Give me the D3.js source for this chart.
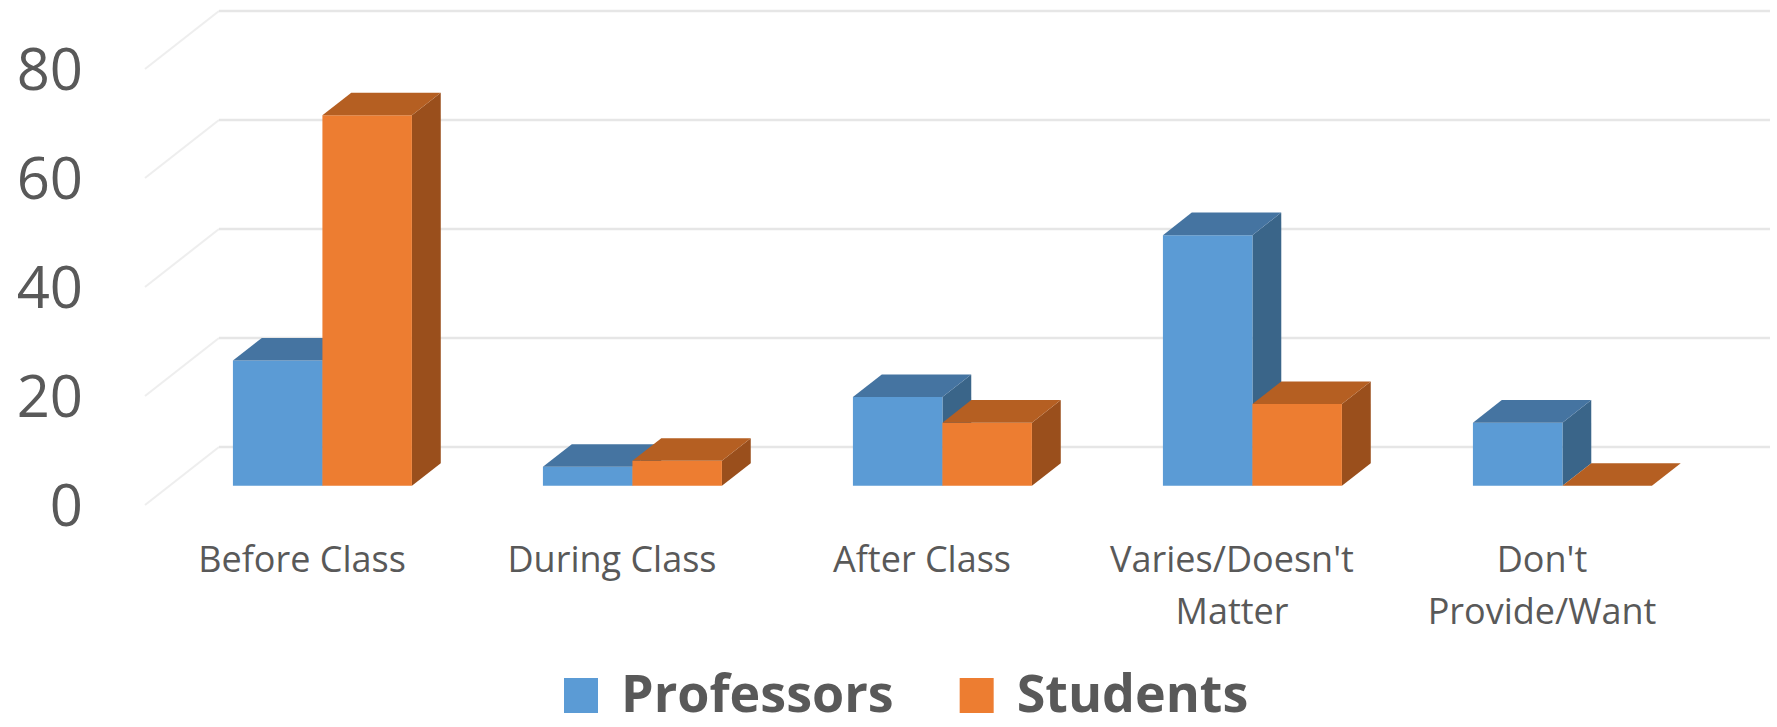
<!DOCTYPE html>
<html>
<head>
<meta charset="utf-8">
<script src="https://cdn.jsdelivr.net/npm/d3@7"></script>
<style>
  body { margin: 0; background: #ffffff; }
  text { font-family: "Open Sans", "Noto Sans", sans-serif; fill: #595959; }
</style>
</head>
<body>
<div id="chart"></div>
<script>
// chart data
var categories = ["Before Class", "During Class", "After Class", "Varies/Doesn't Matter", "Don't Provide/Want"];
var seriesNames = ["Professors", "Students"];
var professors = [23, 3.5, 16.3, 46, 11.6];
var students = [68, 4.6, 11.6, 15, 0];
var yTicks = [0, 20, 40, 60, 80];

var svgWidth = 1777;
var svgHeight = 727;

// 3d look: depth of the floor and of the bars
var depthX = 74;
var depthY = -58;
var barZ0 = 0.33;
var barZ1 = 0.72;

var colors = {
    Professors: { front: "#5b9bd5", top: "#4574a1", side: "#3a6589" },
    Students: { front: "#ed7d31", top: "#b55f22", side: "#9a4f1c" }
};

var svg = d3.select("#chart")
    .append("svg")
    .attr("width", svgWidth)
    .attr("height", svgHeight);

svg.append("rect")
    .attr("width", svgWidth)
    .attr("height", svgHeight)
    .attr("fill", "#ffffff");

// scales (front plane)
var yScale = d3.scaleLinear()
    .domain([0, 80])
    .range([505, 69]);

var xScale = d3.scaleBand()
    .domain(categories)
    .range([143, 1693])
    .paddingInner(0.4226)
    .paddingOuter(0.2113);

var xSub = d3.scaleBand()
    .domain(seriesNames)
    .range([0, xScale.bandwidth()]);

function proj(x, y, z) {
    return [x + depthX * z, y + depthY * z];
}

//gridlines: diagonal on the side wall, then flat on the back wall
var plotLeft = 145;
var backRight = 1770;

var gridGroup = svg.append("g");

gridGroup.selectAll(".diag")
    .data(yTicks)
    .enter()
    .append("line")
    .attr("x1", d => proj(plotLeft, yScale(d), 0)[0])
    .attr("y1", d => proj(plotLeft, yScale(d), 0)[1])
    .attr("x2", d => proj(plotLeft, yScale(d), 1)[0])
    .attr("y2", d => proj(plotLeft, yScale(d), 1)[1])
    .attr("stroke", "#eeeeee")
    .attr("stroke-width", 2);

gridGroup.selectAll(".back")
    .data(yTicks)
    .enter()
    .append("line")
    .attr("x1", d => proj(plotLeft, yScale(d), 1)[0])
    .attr("y1", d => proj(plotLeft, yScale(d), 1)[1])
    .attr("x2", backRight)
    .attr("y2", d => proj(plotLeft, yScale(d), 1)[1])
    .attr("stroke", "#e6e6e6")
    .attr("stroke-width", 2.5);

// y axis labels
svg.selectAll(".ylabel")
    .data(yTicks)
    .enter()
    .append("text")
    .attr("x", 83)
    .attr("y", d => yScale(d))
    .attr("dy", "0.36em")
    .attr("text-anchor", "end")
    .style("font-size", "58px")
    .text(d => d);

// bar records
var bars = [];
categories.forEach(function (cat, i) {
    bars.push({ cat: cat, series: "Professors", value: professors[i] });
    bars.push({ cat: cat, series: "Students", value: students[i] });
});

function pts(list) {
    return list.map(p => p.join(",")).join(" ");
}

var barGroups = svg.selectAll(".bar")
    .data(bars)
    .enter()
    .append("g")
    .attr("class", "bar");

barGroups.each(function (d) {
    var g = d3.select(this);
    var xl = xScale(d.cat) + xSub(d.series);
    var xr = xl + xSub.bandwidth();
    var yb = yScale(0);
    var yt = yScale(d.value);
    var c = colors[d.series];

    var fTL = proj(xl, yt, barZ0), fTR = proj(xr, yt, barZ0);
    var fBR = proj(xr, yb, barZ0), fBL = proj(xl, yb, barZ0);
    var bTL = proj(xl, yt, barZ1), bTR = proj(xr, yt, barZ1);
    var bBR = proj(xr, yb, barZ1);

    //side face
    g.append("polygon")
        .attr("points", pts([fTR, bTR, bBR, fBR]))
        .attr("fill", c.side);

    //front face
    g.append("polygon")
        .attr("points", pts([fTL, fTR, fBR, fBL]))
        .attr("fill", c.front);

    //top face
    g.append("polygon")
        .attr("points", pts([fTL, fTR, bTR, bTL]))
        .attr("fill", c.top);
});

// x axis labels with word wrap
var xLabels = svg.selectAll(".xlabel")
    .data(categories)
    .enter()
    .append("text")
    .attr("text-anchor", "middle")
    .style("font-size", "36px")
    .attr("x", d => xScale(d) + xScale.bandwidth() / 2 + 4)
    .attr("y", 572);

xLabels.each(function (d) {
    var t = d3.select(this);
    var cx = +t.attr("x");
    var words = d.split(" ");
    var line = [];
    var tspan = t.append("tspan").attr("x", cx).attr("dy", 0);
    words.forEach(function (w) {
        line.push(w);
        tspan.text(line.join(" "));
        if (tspan.node().getComputedTextLength() > 290 && line.length > 1) {
            line.pop();
            tspan.text(line.join(" "));
            line = [w];
            tspan = t.append("tspan").attr("x", cx).attr("dy", 52).text(w);
        }
    });
});

// legend
var legend = svg.append("g");
var lx = 564;
seriesNames.forEach(function (name) {
    legend.append("rect")
        .attr("x", lx)
        .attr("y", 678)
        .attr("width", 34)
        .attr("height", 35)
        .attr("fill", colors[name].front);
    var txt = legend.append("text")
        .attr("x", lx + 57)
        .attr("y", 712)
        .style("font-size", "52px")
        .style("font-weight", "bold")
        .text(name);
    lx = lx + 57 + txt.node().getComputedTextLength() + 66;
});
</script>
</body>
</html>
